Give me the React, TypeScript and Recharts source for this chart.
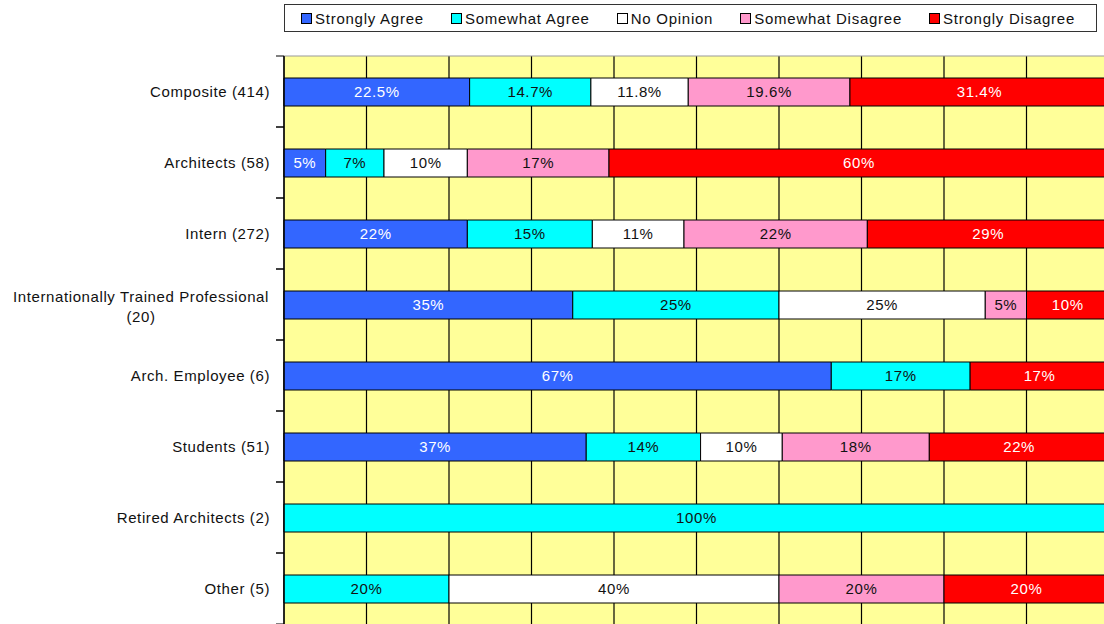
import React from 'react';
import { BarChart, Bar, XAxis, YAxis, CartesianGrid, LabelList } from 'recharts';

const categories = [
  'Composite (414)',
  'Architects (58)',
  'Intern (272)',
  'Internationally Trained Professional\n(20)',
  'Arch. Employee (6)',
  'Students (51)',
  'Retired Architects (2)',
  'Other (5)',
];

const stronglyAgree = [22.5, 5, 22, 35, 67, 37, 0, 0];
const somewhatAgree = [14.7, 7, 15, 25, 17, 14, 100, 20];
const noOpinion = [11.8, 10, 11, 25, 0, 10, 0, 40];
const somewhatDisagree = [19.6, 17, 22, 5, 0, 18, 0, 20];
const stronglyDisagree = [31.4, 60, 29, 10, 17, 22, 0, 20];

const seriesNames = ['Strongly Agree', 'Somewhat Agree', 'No Opinion', 'Somewhat Disagree', 'Strongly Disagree'];
const xTicks = [0, 0.1, 0.2, 0.3, 0.4, 0.5, 0.6, 0.7, 0.8, 0.9, 1];

const data = categories.map((name, i) => ({
  name,
  sa: stronglyAgree[i],
  swa: somewhatAgree[i],
  no: noOpinion[i],
  swd: somewhatDisagree[i],
  sd: stronglyDisagree[i],
}));

const series = [
  { key: 'sa', name: seriesNames[0], color: '#3366FF', text: '#FFFFFF' },
  { key: 'swa', name: seriesNames[1], color: '#00FFFF', text: '#111111' },
  { key: 'no', name: seriesNames[2], color: '#FFFFFF', text: '#111111' },
  { key: 'swd', name: seriesNames[3], color: '#FF99CC', text: '#111111' },
  { key: 'sd', name: seriesNames[4], color: '#FF0000', text: '#FFFFFF' },
];

const FONT = '"Liberation Sans", Arial, Helvetica, sans-serif';

function YTick(props: any) {
  const { x, y, payload } = props;
  const lines = String(payload.value).split('\n');
  const off = payload && typeof payload.offset === 'number' && payload.offset > 0 ? payload.offset : 35.5;
  const axisX = x + 14;
  return (
    <g>
      <line x1={axisX - 8} x2={axisX} y1={y - off} y2={y - off} stroke="#000" strokeWidth={1} />
      <line x1={axisX - 8} x2={axisX} y1={y + off} y2={y + off} stroke="#000" strokeWidth={1} />
      {lines.length === 1 ? (
        <text x={x} y={y} dy={5} textAnchor="end" fontSize={15} letterSpacing={0.6} fill="#111" fontFamily={FONT}>
          {lines[0]}
        </text>
      ) : (
        <text x={141} y={y} textAnchor="middle" fontSize={15} letterSpacing={0.6} fill="#111" fontFamily={FONT}>
          {lines.map((l, i) => (
            <tspan key={i} x={141} dy={i === 0 ? -3 : 20}>
              {l}
            </tspan>
          ))}
        </text>
      )}
    </g>
  );
}

function LegendBox() {
  return (
    <div
      style={{
        position: 'absolute',
        left: 284,
        top: 4,
        width: 813,
        height: 28,
        boxSizing: 'border-box',
        border: '1px solid #333',
        background: '#fff',
        display: 'flex',
        alignItems: 'center',
        paddingLeft: 16,
        fontFamily: FONT,
        fontSize: 15,
        letterSpacing: 0.75,
        color: '#111',
      }}
    >
      {series.map((s, i) => (
        <div key={s.key} style={{ display: 'flex', alignItems: 'center', marginRight: i < series.length - 1 ? 27 : 0 }}>
          <span
            style={{
              display: 'inline-block',
              width: 9,
              height: 9,
              background: s.color,
              border: '1px solid #000',
              marginRight: 3,
            }}
          />
          <span>{s.name}</span>
        </div>
      ))}
    </div>
  );
}

export default function App() {
  return (
    <div
      style={{
        position: 'fixed',
        left: 0,
        top: 0,
        width: 1104,
        height: 624,
        overflow: 'hidden',
        background: '#fff',
      }}
    >
      <LegendBox />
      <div style={{ position: 'absolute', left: 0, top: 0 }}>
        <BarChart
          width={1130}
          height={640}
          data={data}
          layout="vertical"
          stackOffset="expand"
          barSize={28}
          margin={{ top: 56, right: 21, bottom: 16, left: 0 }}
        >
          <CartesianGrid
            horizontal={false}
            vertical={true}
            fill="#FFFF99"
            fillOpacity={1}
            stroke="#000"
            strokeWidth={1.2}
          />
          <CartesianGrid
            vertical={false}
            horizontal={true}
            stroke="#999"
            horizontalCoordinatesGenerator={({ offset }: any) => [offset.top]}
          />
          <XAxis type="number" domain={[0, 1]} ticks={xTicks} hide />
          <YAxis
            type="category"
            dataKey="name"
            width={284}
            tickLine={false}
            tickSize={8}
            tickMargin={6}
            axisLine={{ stroke: '#000', strokeWidth: 1.2 }}
            tick={<YTick />}
            interval={0}
          />
          {series.map((s) => (
            <Bar
              key={s.key}
              dataKey={s.key}
              name={s.name}
              stackId="a"
              fill={s.color}
              stroke="#000"
              strokeWidth={1}
              isAnimationActive={false}
            >
              <LabelList
                dataKey={s.key}
                position="center"
                fill={s.text}
                fontSize={15}
                letterSpacing={0.6}
                fontFamily={FONT}
                formatter={(v: any) => (v ? `${v}%` : '')}
              />
            </Bar>
          ))}
        </BarChart>
      </div>
    </div>
  );
}
